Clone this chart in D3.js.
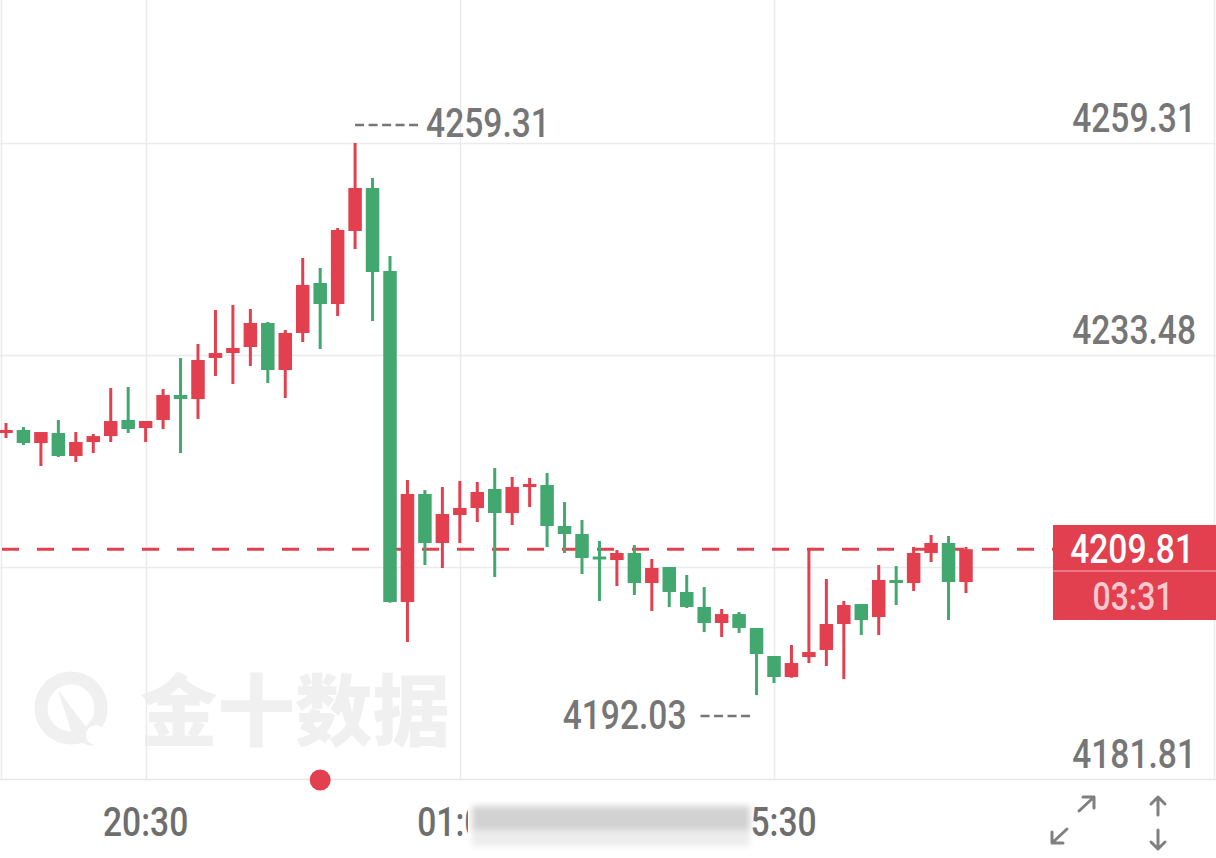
<!DOCTYPE html>
<html>
<head>
<meta charset="utf-8">
<script src="https://cdn.jsdelivr.net/npm/d3@7"></script>
<style>
  html, body { margin: 0; padding: 0; background: #ffffff; }
  svg { display: block; }
</style>
</head>
<body>
<svg id="chart" width="1216" height="858"></svg>
<script>
// ---------------- DATA ----------------
const opens  = [4223.97,4224.34,4222.75,4223.97,4221.17,4222.87,4223.60,4225.56,4224.58,4225.56,
                4228.60,4228.11,4233.11,4233.72,4234.45,4237.38,4231.65,4236.16,4242.25,4239.69,
                4248.59,4253.83,4243.71,4203.38,4216.54,4210.57,4213.98,4214.83,4217.15,4214.22,
                4217.39,4217.63,4212.64,4211.66,4208.86,4208.49,4209.35,4205.69,4207.64,4204.60,
                4202.77,4200.82,4201.91,4200.21,4196.80,4194.24,4196.67,4197.53,4200.70,4203.13,
                4201.55,4206.06,4205.69,4209.35,4210.57,4205.81];
const highs  = [4225.19,4224.70,4224.09,4225.56,4224.09,4223.85,4229.45,4229.58,4225.43,4229.33,
                4233.11,4234.82,4238.96,4239.57,4239.08,4237.50,4236.52,4245.30,4244.08,4248.95,
                4259.31,4255.05,4245.54,4218.24,4217.02,4217.39,4218.12,4218.00,4219.71,4218.61,
                4218.49,4219.10,4215.56,4213.37,4210.81,4209.71,4210.32,4208.62,4207.64,4206.67,
                4205.20,4202.52,4202.16,4200.21,4196.80,4198.14,4209.71,4206.18,4203.50,4203.13,
                4207.89,4207.76,4210.08,4211.54,4211.42,4210.08];
const lows   = [4223.36,4222.51,4219.95,4221.05,4220.44,4221.53,4222.87,4223.97,4222.87,4224.46,
                4221.53,4225.68,4230.92,4229.94,4232.14,4230.06,4228.24,4235.06,4234.21,4238.23,
                4246.39,4237.62,4203.30,4198.50,4207.89,4207.52,4210.57,4213.12,4206.42,4212.76,
                4214.95,4210.08,4209.35,4206.79,4203.50,4205.33,4204.23,4202.28,4202.77,4202.65,
                4199.72,4199.11,4199.60,4192.03,4193.51,4194.14,4195.94,4195.58,4193.99,4199.35,
                4199.35,4203.01,4204.72,4208.25,4201.18,4204.47];
const closes = [4224.34,4222.75,4224.09,4221.17,4222.87,4223.60,4225.43,4224.46,4225.43,4228.60,
                4228.11,4232.87,4233.72,4234.33,4237.38,4231.65,4236.16,4242.01,4239.69,4248.71,
                4253.83,4243.59,4203.38,4216.54,4210.57,4214.10,4214.83,4216.78,4214.22,4217.39,
                4217.76,4212.64,4211.66,4208.74,4208.62,4209.35,4205.69,4207.52,4204.60,4202.77,
                4200.82,4201.91,4200.21,4197.04,4194.24,4195.94,4197.28,4200.70,4203.01,4201.18,
                4206.06,4205.69,4209.35,4210.57,4205.81,4209.81];

const yTickValues = [4259.31, 4233.48, 4207.65, 4181.81];
const yTickLabels = ["4259.31", "4233.48", "", "4181.81"];
const xTickIndex  = [8, 26, 44];
const xTickLabels = ["20:30", "01:00", "05:30"];
const lastPrice = 4209.81;
const lastPriceLabel = "4209.81";
const countdownLabel = "03:31";
const maxLabel = "4259.31";
const maxIndex = 20;
const minLabel = "4192.03";
const minIndex = 43;
const eventIndex = 18;
const watermarkText = "金十数据";

// ---------------- STYLE ----------------
const RED = "#e2404f";
const GREEN = "#42a86f";
const GRID = "#ebebeb";
const TEXT = "#767676";
const FONT = "Roboto, 'Noto Sans', sans-serif";
const SX = 0.84; // condensed look

const svg = d3.select("#chart");

const x = d3.scaleLinear().domain([0, opens.length - 1]).range([6, 966]);
const y = d3.scaleLinear().domain([4181.81, 4259.31]).range([779, 143]);

// watermark
const WM = "#f0f0f0";
const wm = svg.append("g").attr("fill", WM);
wm.append("circle").attr("cx", 71).attr("cy", 708).attr("r", 30)
  .attr("fill", "none").attr("stroke", WM).attr("stroke-width", 13);
wm.append("path").attr("d", "M58,690 L92,735 Q99,745 90,746 L74,740 Z");
wm.append("circle").attr("cx", 96).attr("cy", 735).attr("r", 10).attr("fill", "#ffffff");
wm.append("text").attr("x", 140).attr("y", 740)
  .attr("font-family", "'Noto Sans CJK SC', sans-serif").attr("font-weight", 900)
  .attr("font-size", 78).attr("textLength", 310).attr("lengthAdjust", "spacingAndGlyphs")
  .text(watermarkText);

// grid
const grid = svg.append("g");
grid.selectAll("line.h").data(yTickValues.slice(0, 3)).join("line")
  .attr("x1", 0).attr("x2", 1216)
  .attr("y1", d => Math.round(y(d)) + 0.5).attr("y2", d => Math.round(y(d)) + 0.5)
  .attr("stroke", GRID).attr("stroke-width", 1.5);
grid.selectAll("line.v").data(xTickIndex).join("line")
  .attr("x1", d => Math.round(x(d)) + 0.5).attr("x2", d => Math.round(x(d)) + 0.5)
  .attr("y1", 0).attr("y2", 780)
  .attr("stroke", GRID).attr("stroke-width", 1.5);
grid.append("line").attr("x1", 1.5).attr("x2", 1.5).attr("y1", 0).attr("y2", 780)
  .attr("stroke", GRID).attr("stroke-width", 1.5);
grid.append("line").attr("x1", 1214.5).attr("x2", 1214.5).attr("y1", 0).attr("y2", 780)
  .attr("stroke", GRID).attr("stroke-width", 1.5);
// bottom axis line
grid.append("line").attr("x1", 0).attr("x2", 1216)
  .attr("y1", y(4181.81) + 0.5).attr("y2", y(4181.81) + 0.5)
  .attr("stroke", "#e6e6e6").attr("stroke-width", 1.5);

// y labels
function condensedText(g, xPos, yPos, txt, anchor, size, fill, weight) {
  return g.append("text")
    .attr("transform", `translate(${xPos},${yPos}) scale(${SX},1)`)
    .attr("text-anchor", anchor)
    .attr("font-family", FONT).attr("font-size", size)
    .attr("font-weight", weight || 500)
    .attr("fill", fill).text(txt);
}
const yl = svg.append("g");
yTickValues.forEach((v, i) => {
  if (yTickLabels[i]) condensedText(yl, 1196, y(v) - 11, yTickLabels[i], "end", 40, TEXT);
});

// last price dashed line
svg.append("line")
  .attr("x1", 2).attr("x2", 1053)
  .attr("y1", y(lastPrice)).attr("y2", y(lastPrice))
  .attr("stroke", RED).attr("stroke-width", 3)
  .attr("stroke-dasharray", "17,18");

// candles
const idx = d3.range(opens.length);
const bodyW = 13.5;
const cg = svg.append("g");
const color = i => closes[i] >= opens[i] ? RED : GREEN;
cg.selectAll("line.wick").data(idx).join("line")
  .attr("x1", i => x(i)).attr("x2", i => x(i))
  .attr("y1", i => y(highs[i])).attr("y2", i => y(lows[i]))
  .attr("stroke", color).attr("stroke-width", 3);
cg.selectAll("rect.body").data(idx).join("rect")
  .attr("x", i => x(i) - bodyW / 2)
  .attr("width", bodyW)
  .attr("y", i => {
    const t = y(Math.max(opens[i], closes[i]));
    const h = Math.abs(y(opens[i]) - y(closes[i]));
    return h < 3 ? (t + h / 2 - 1.5) : t;
  })
  .attr("height", i => Math.max(3, Math.abs(y(opens[i]) - y(closes[i]))))
  .attr("fill", color);

// max annotation
const mx = x(maxIndex);
svg.append("line").attr("x1", mx).attr("x2", mx + 63)
  .attr("y1", 125).attr("y2", 125)
  .attr("stroke", TEXT).attr("stroke-width", 2.5).attr("stroke-dasharray", "9,4.5");
condensedText(svg, mx + 71, 137, maxLabel, "start", 40, TEXT);

// min annotation
const mn = x(minIndex);
svg.append("line").attr("x1", mn - 56).attr("x2", mn - 6)
  .attr("y1", 716).attr("y2", 716)
  .attr("stroke", TEXT).attr("stroke-width", 2.5).attr("stroke-dasharray", "9,4.5");
condensedText(svg, mn - 70, 729, minLabel, "end", 40, TEXT);

// price box
const pb = svg.append("g");
pb.append("rect").attr("x", 1053).attr("y", 525).attr("width", 163).attr("height", 95).attr("fill", RED);
pb.append("line").attr("x1", 1053).attr("x2", 1216).attr("y1", 571).attr("y2", 571)
  .attr("stroke", "#f08a94").attr("stroke-width", 1.5);
condensedText(pb, 1194, 563, lastPriceLabel, "end", 40, "#ffffff", 500);
condensedText(pb, 1133, 610, countdownLabel, "middle", 38, "#ffc9cf", 500);

// x labels
const xl = svg.append("g");
xTickIndex.forEach((d, i) => condensedText(xl, x(d), 836, xTickLabels[i], "middle", 40, "#6e6e6e", 500));

// blurred privacy strip over part of the axis labels
const defs = svg.append("defs");
const f = defs.append("filter").attr("id", "blur").attr("x", "-10%").attr("y", "-50%").attr("width", "120%").attr("height", "200%");
f.append("feGaussianBlur").attr("stdDeviation", 3);
svg.append("rect").attr("x", 468).attr("y", 790).attr("width", 284).attr("height", 62).attr("fill", "#ffffff");
const bl = svg.append("g").attr("filter", "url(#blur)");
bl.append("rect").attr("x", 472).attr("y", 806).attr("width", 278).attr("height", 24).attr("fill", "#d2d2d2");
bl.append("rect").attr("x", 472).attr("y", 830).attr("width", 278).attr("height", 16).attr("fill", "#ececec");

// event dot
svg.append("circle").attr("cx", x(eventIndex)).attr("cy", 780).attr("r", 10.5).attr("fill", RED);

// icons
const ic = svg.append("g").attr("stroke", "#808080").attr("stroke-width", 3)
  .attr("fill", "none").attr("stroke-linecap", "round").attr("stroke-linejoin", "round");
ic.append("path").attr("d", "M1067,829 L1052,843 M1052,832 L1052,843 L1063,843");
ic.append("path").attr("d", "M1079,811 L1094,797 M1083,797 L1094,797 L1094,808");
ic.append("path").attr("d", "M1158,815 L1158,797 M1151,804 L1158,797 L1165,804");
ic.append("path").attr("d", "M1158,830 L1158,849 M1151,842 L1158,849 L1165,842");
</script>
</body>
</html>
